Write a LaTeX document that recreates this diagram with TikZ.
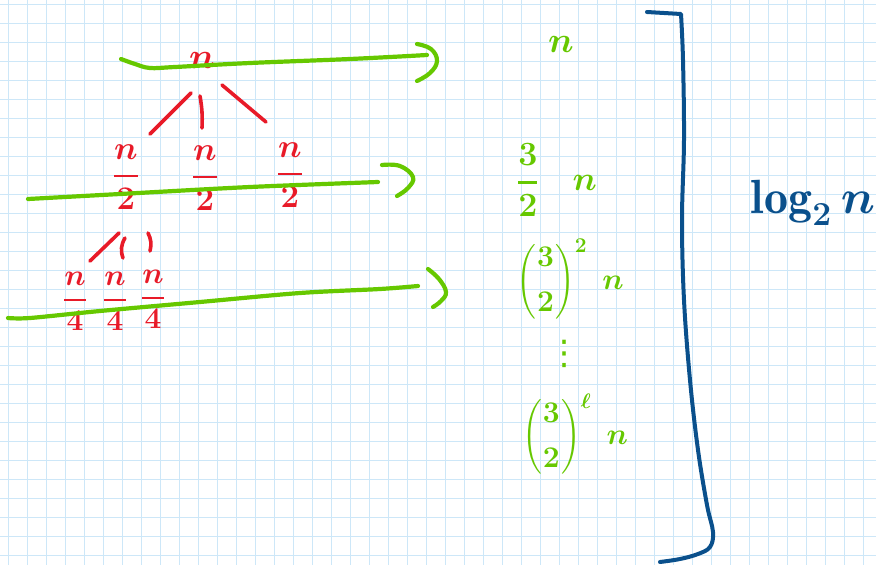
\RequirePackage{fix-cm}
\documentclass[tikz,border=0pt]{standalone}
\usepackage{amsmath}
\usepackage{fontspec}
\newfontfamily\dejavu{DejaVu Sans}
\usetikzlibrary{calc}
\definecolor{gridc}{RGB}{205,231,248}
\definecolor{penred}{RGB}{232,26,40}
\definecolor{pengreen}{RGB}{102,200,0}
\definecolor{penblue}{RGB}{10,80,140}
\newcommand{\penfrac}[2]{\genfrac{}{}{2.6pt}{0}{#1}{#2}}
\begin{document}
\begin{tikzpicture}[x=1pt,y=-1pt,
  gridline/.style={gridc, line width=1.3pt},
  pen/.style={line cap=round, line join=round},
  redpen/.style={pen, penred, line width=3.6pt},
  greenpen/.style={pen, pengreen, line width=4.2pt},
  bluepen/.style={pen, penblue, line width=4pt},
  redtext/.style={text=penred, inner sep=0pt},
  greentext/.style={text=pengreen, inner sep=0pt},
  bluetext/.style={text=penblue, inner sep=0pt},
  big/.style={font=\fontsize{#1}{#1}\selectfont\boldmath}]
\useasboundingbox[fill=white] (0,0) rectangle (876,565);
% grid paper
\foreach \i in {0,...,45} \draw[gridline] ({8.3+19*\i},0) -- ({8.3+19*\i},565);
\foreach \j in {0,...,29} \draw[gridline] (0,{4.3+19*\j}) -- (876,{4.3+19*\j});

% recursion tree (red)
\node[redtext, big=36] (r) at (202,60) {$n$};
\node[redtext, big=33] (c1) at (126,177) {$\penfrac{n}{2}$};
\node[redtext, big=33] (c2) at (205,178) {$\penfrac{n}{2}$};
\node[redtext, big=33] (c3) at (290,175) {$\penfrac{n}{2}$};
\node[redtext, big=30] (d1) at (75,301) {$\penfrac{n}{4}$};
\node[redtext, big=30] (d2) at (115,301) {$\penfrac{n}{4}$};
\node[redtext, big=30] (d3) at (153,299) {$\penfrac{n}{4}$};

\draw[redpen] ([shift={(-11,33)}]r.center) -- ([shift={(24,-43)}]c1.center);
\draw[redpen] ([shift={(-2,36)}]r.center) to[bend left=6] ([shift={(-3,-50)}]c2.center);
\draw[redpen] ([shift={(20,25)}]r.center) -- ([shift={(-24,-53)}]c3.center);
\draw[redpen] ([shift={(-7,56)}]c1.center) -- ([shift={(15,-40)}]d1.center);
\draw[redpen] ([shift={(-1,61)}]c1.center) to[bend right=25] ([shift={(8,-43)}]d2.center);
\draw[redpen] ([shift={(22,56)}]c1.center) to[bend left=20] ([shift={(-3,-48)}]d3.center);

% level lines (green)
\draw[greenpen] plot[smooth, tension=0.6] coordinates {(121,59) (135,64) (150,68) (175,67) (250,63) (350,59) (427,55)};
\draw[greenpen] plot[smooth, tension=0.7] coordinates {(417,44) (431,49) (437,61) (430,73) (417,81)};
\draw[greenpen] plot[smooth, tension=0.5] coordinates {(28,199) (120,194) (250,187) (378,182)};
\draw[greenpen] plot[smooth, tension=0.7] coordinates {(382,165) (400,166) (413,177) (408,188) (397,196)};
\draw[greenpen] plot[smooth, tension=0.5] coordinates {(8,318) (30,318) (100,311) (200,302) (300,293) (380,289) (418,286)};
\draw[greenpen] plot[smooth, tension=0.7] coordinates {(428,269) (439,279) (446,292) (441,301) (433,307)};

% level costs (green)
\node[greentext, big=36] (g0) at (561,44) {$n$};
\node[greentext, big=34] (g1) at (557,180) {$\penfrac{3}{2}\quad n$};
\node[greentext, big=30] (g2) at (570,279) {$\left(\genfrac{}{}{0pt}{0}{3}{2}\right)^{2}\;n$};
\node[greentext, font=\fontsize{34}{34}\selectfont\dejavu] (g3) at (564,354) {⋮};
\node[greentext, big=30] (g4) at (575,434) {$\left(\genfrac{}{}{0pt}{0}{3}{2}\right)^{\ell}\;n$};

% bracket and height (blue)
\draw[bluepen] (647,12) -- (681,14) -- plot[smooth, tension=0.6] coordinates {(681,14) (683,60) (684,140) (682,220) (684,300) (690,380) (698,450) (707,505) (713,532) (710,547) (698,554) (680,559) (660,562)};
\node[bluetext, big=48] (h) at (813,203) {$\log_2 n$};
\end{tikzpicture}
\end{document}
